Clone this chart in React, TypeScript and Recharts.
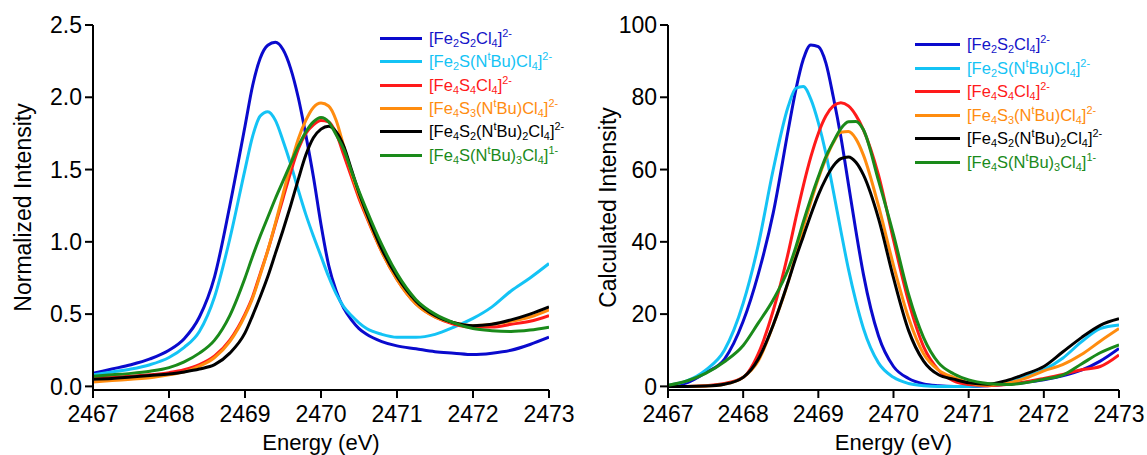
import React from "react";
import { LineChart, Line, XAxis, YAxis, Legend } from "recharts";

const FONT = "'Liberation Sans', Arial, sans-serif";

// series order matches the legend
const seriesNames = [
  "[Fe2S2Cl4]2-",
  "[Fe2S(NtBu)Cl4]2-",
  "[Fe4S4Cl4]2-",
  "[Fe4S3(NtBu)Cl4]2-",
  "[Fe4S2(NtBu)2Cl4]2-",
  "[Fe4S(NtBu)3Cl4]1-",
];
const lineColors = ["#0a0acd", "#14c3f5", "#ff1a1a", "#ff8c0f", "#000000", "#1a8a1a"];
const labelColors = ["#1414c8", "#14c3f5", "#ff1a1a", "#ff8c0f", "#000000", "#1a8a1a"];

const xTicks = [2467, 2468, 2469, 2470, 2471, 2472, 2473];
const leftYTicks = [0, 0.5, 1, 1.5, 2, 2.5];
const rightYTicks = [0, 20, 40, 60, 80, 100];

// left panel: normalized intensity
const energyLeft = [
  2467, 2467.25, 2467.5, 2467.75, 2468, 2468.2, 2468.4, 2468.6, 2468.8, 2469, 2469.1, 2469.2,
  2469.3, 2469.4, 2469.5, 2469.6, 2469.7, 2469.8, 2469.9, 2470, 2470.1, 2470.2, 2470.3, 2470.4,
  2470.5, 2470.6, 2470.8, 2471, 2471.25, 2471.5, 2471.75, 2472, 2472.25, 2472.5, 2472.75, 2473,
];
const fe2s2Left = [
  0.09, 0.12, 0.15, 0.19, 0.25, 0.33, 0.48, 0.76, 1.25, 1.8, 2.08, 2.27, 2.36, 2.38, 2.33, 2.2,
  2.0, 1.74, 1.45, 1.12, 0.84, 0.66, 0.54, 0.46, 0.4, 0.36, 0.31, 0.28, 0.26, 0.24, 0.23, 0.22,
  0.23, 0.25, 0.29, 0.34,
];
const fe2sLeft = [
  0.08, 0.1, 0.12, 0.15, 0.2, 0.27, 0.38, 0.62, 1.02, 1.5, 1.73, 1.87, 1.9, 1.84, 1.7, 1.54,
  1.36, 1.19, 1.04, 0.9, 0.76, 0.64, 0.55, 0.49, 0.44, 0.4, 0.36, 0.34, 0.34, 0.36, 0.41, 0.47,
  0.55, 0.66, 0.75, 0.85,
];
const fe4s4Left = [
  0.06, 0.065, 0.07, 0.08, 0.095, 0.115, 0.15, 0.21, 0.32, 0.5, 0.62, 0.78, 0.94, 1.12, 1.3,
  1.48, 1.64, 1.75, 1.81, 1.84, 1.83, 1.75, 1.6, 1.45, 1.3, 1.17, 0.93, 0.74, 0.57, 0.48, 0.43,
  0.41, 0.41, 0.43, 0.45, 0.49,
];
const fe4s3Left = [
  0.03, 0.04, 0.05, 0.06, 0.08, 0.1, 0.14, 0.2, 0.31, 0.49, 0.61, 0.77, 0.94, 1.13, 1.33, 1.53,
  1.71, 1.84, 1.93, 1.96, 1.94, 1.84, 1.66, 1.48, 1.32, 1.18, 0.93, 0.74, 0.57, 0.48, 0.44, 0.42,
  0.43, 0.45, 0.48, 0.53,
];
const fe4s2Left = [
  0.05, 0.055, 0.065, 0.075, 0.085, 0.1, 0.12, 0.15, 0.23, 0.37, 0.49, 0.62, 0.76, 0.92, 1.08,
  1.25, 1.43, 1.6, 1.72, 1.78, 1.8, 1.76, 1.66, 1.5, 1.34, 1.2, 0.95, 0.76, 0.59, 0.49, 0.44,
  0.42, 0.43, 0.46, 0.5, 0.55,
];
const fe4sLeft = [
  0.07, 0.08, 0.09, 0.105, 0.13, 0.17, 0.23, 0.32, 0.49, 0.75, 0.9, 1.04, 1.17, 1.3, 1.42, 1.54,
  1.66, 1.76, 1.83, 1.86, 1.83, 1.74, 1.64, 1.49, 1.35, 1.22, 0.98, 0.78, 0.6, 0.5, 0.44, 0.4,
  0.385, 0.38, 0.39, 0.41,
];

// right panel: calculated intensity
const energyRight = [
  2467, 2467.25, 2467.5, 2467.75, 2468, 2468.2, 2468.4, 2468.6, 2468.7, 2468.8, 2468.9, 2469,
  2469.1, 2469.2, 2469.3, 2469.4, 2469.5, 2469.6, 2469.8, 2470, 2470.2, 2470.4, 2470.6, 2470.8,
  2471, 2471.25, 2471.5, 2471.75, 2472, 2472.25, 2472.5, 2472.75, 2473,
];
const fe2s2Right = [
  0, 1.0, 3.8, 7.5, 18, 31, 48, 71, 82, 90.5, 94.5, 94, 89.5, 80, 69, 56, 43, 31, 14, 5.5, 2.2,
  0.7, 0.2, 0, 0, 0.2, 0.6, 1.1, 1.8, 2.9, 4.5, 7, 10.5,
];
const fe2sRight = [
  0.3, 1.5, 4.5, 10, 23, 39, 60, 77.5, 82.5, 83, 79.5, 73, 64.5, 54, 43, 32.5, 23.5, 16, 6.5, 2.5,
  0.8, 0.2, 0, 0, 0, 0.3, 1.2, 2.7, 4.6, 7.8, 12.3, 16, 17,
];
const fe4s4Right = [
  0, 0, 0.2, 0.8, 2.5, 9, 21, 37, 46.5, 55.5, 63.5, 70, 74.8, 77.6, 78.5, 77.6, 75, 71, 58.5, 40.5,
  23.5, 11, 4.5, 1.5, 0.5, 0.2, 0.5, 1.2, 2.2, 3.3, 4.6, 5.5, 8.7,
];
const fe4s3Right = [
  0, 0, 0.1, 0.6, 2.5, 7, 17, 29, 36.5, 44, 51, 57.5, 63, 67.5, 70.3, 70.5, 68.5, 64, 50, 33.5,
  19, 9, 4.5, 2.5, 1.0, 0.3, 0.8, 2.2, 4.3, 6, 8.8, 12.5, 16,
];
const fe4s2Right = [
  0, 0, 0.1, 0.6, 2.5, 7.5, 17, 29, 35.5, 41.5, 47.5, 53, 57.5, 61, 63, 63.5, 62, 58.5, 46.5, 30,
  15.5, 7, 3.2, 2.0, 1.0, 0.6, 1.6, 3.4, 5.5, 9.5, 13.5, 16.9, 18.7,
];
const fe4sRight = [
  0.3, 1.5, 3.6, 6.8, 11.3, 17.5, 24, 32.5, 38.5, 45.5, 52, 58, 63.5, 67.7, 71.3, 73.2, 73.3, 71,
  57, 42, 25.5, 13.5, 6.5, 3.5, 1.8, 0.8, 0.5, 1, 2, 3.1, 6.2, 9.3, 11.5,
];

const leftSeries = [fe2s2Left, fe2sLeft, fe4s4Left, fe4s3Left, fe4s2Left, fe4sLeft];
const rightSeries = [fe2s2Right, fe2sRight, fe4s4Right, fe4s3Right, fe4s2Right, fe4sRight];

const buildRows = (energy: number[], series: number[][]) =>
  energy.map((e, i) => {
    const row: Record<string, number> = { e };
    series.forEach((s, k) => (row[`s${k}`] = s[i]));
    return row;
  });

const leftRows = buildRows(energyLeft, leftSeries);
const rightRows = buildRows(energyRight, rightSeries);

const subStyle: React.CSSProperties = { fontSize: "0.66em", verticalAlign: "-0.32em", lineHeight: 0 };
const supStyle: React.CSSProperties = { fontSize: "0.66em", verticalAlign: "0.6em", lineHeight: 0 };

// digits -> subscript, the t of NtBu -> superscript, charge after ] -> superscript
function Formula({ text }: { text: string }) {
  const cut = text.lastIndexOf("]");
  const body = text.slice(0, cut + 1);
  const charge = text.slice(cut + 1);
  const parts: React.ReactNode[] = [];
  for (let i = 0; i < body.length; i++) {
    const c = body[i];
    if (/\d/.test(c)) parts.push(<sub key={i} style={subStyle}>{c}</sub>);
    else if (c === "t" && body[i - 1] === "N") parts.push(<sup key={i} style={supStyle}>{c}</sup>);
    else parts.push(<span key={i}>{c}</span>);
  }
  parts.push(<sup key="q" style={supStyle}>{charge}</sup>);
  return <>{parts}</>;
}

const makeLegend = (lineW: number, rowH: number) => (props: any) => {
  const payload = [...(props.payload || [])].sort(
    (a: any, b: any) => seriesNames.indexOf(a.value) - seriesNames.indexOf(b.value)
  );
  return (
    <div style={{ fontFamily: FONT }}>
      {payload.map((p: any) => {
        const k = seriesNames.indexOf(p.value);
        return (
          <div key={p.value} style={{ display: "flex", alignItems: "center", height: rowH }}>
            <div style={{ width: lineW, height: 3, background: lineColors[k], marginRight: 7 }} />
            <span style={{ color: labelColors[k], fontSize: 16.5, whiteSpace: "nowrap" }}>
              <Formula text={p.value} />
            </span>
          </div>
        );
      })}
    </div>
  );
};

const tickStyle = { fontSize: 23, fill: "#000", fontFamily: FONT };
const axisStroke = { stroke: "#000", strokeWidth: 2 };

interface PanelProps {
  rows: Record<string, number>[];
  width: number;
  rightMargin: number;
  yDomain: [number, number];
  yTicks: number[];
  yFormat: (v: number) => string;
  yLabel: string;
  yLabelOffset: number;
  legendPos: { left: number; top: number };
  legendLineW: number;
  legendRowH: number;
}

function Panel(p: PanelProps) {
  return (
    <LineChart
      width={p.width}
      height={455}
      data={p.rows}
      margin={{ top: 25, right: p.rightMargin, bottom: 0, left: 0 }}
    >
      <XAxis
        dataKey="e"
        type="number"
        domain={[2467, 2473]}
        ticks={xTicks}
        allowDataOverflow
        tick={tickStyle}
        tickLine={axisStroke}
        axisLine={axisStroke}
        tickSize={8}
        tickMargin={8}
        height={65}
        label={{ value: "Energy (eV)", position: "insideBottom", offset: 5, fontSize: 22, fill: "#000", fontFamily: FONT }}
      />
      <YAxis
        type="number"
        domain={p.yDomain}
        ticks={p.yTicks}
        allowDataOverflow
        tickFormatter={p.yFormat}
        tick={tickStyle}
        tickLine={axisStroke}
        axisLine={axisStroke}
        tickSize={8}
        tickMargin={3}
        width={93}
        label={{
          value: p.yLabel,
          angle: -90,
          position: "insideLeft",
          offset: p.yLabelOffset,
          style: { textAnchor: "middle" },
          fontSize: 23,
          fill: "#000",
          fontFamily: FONT,
        }}
      />
      <Legend
        layout="vertical"
        align="center"
        verticalAlign="middle"
        itemSorter={(item: any) => seriesNames.indexOf(item.value)}
        content={makeLegend(p.legendLineW, p.legendRowH)}
        wrapperStyle={{ left: p.legendPos.left, top: p.legendPos.top, width: 230 }}
      />
      {seriesNames.map((name, k) => (
        <Line
          key={name}
          type="monotone"
          dataKey={`s${k}`}
          name={name}
          stroke={lineColors[k]}
          strokeWidth={3}
          dot={false}
          activeDot={false}
          isAnimationActive={false}
        />
      ))}
    </LineChart>
  );
}

export default function App() {
  return (
    <div
      style={{
        position: "absolute",
        left: 0,
        top: 0,
        width: 1147,
        height: 455,
        background: "#fff",
        fontFamily: FONT,
        overflow: "hidden",
      }}
    >
      <div style={{ position: "absolute", left: 0, top: 0 }}>
        <Panel
          rows={leftRows}
          width={580}
          rightMargin={31}
          yDomain={[-0.025, 2.5]}
          yTicks={leftYTicks}
          yFormat={(v) => v.toFixed(1)}
          yLabel="Normalized Intensity"
          yLabelOffset={23}
          legendPos={{ left: 380, top: 27 }}
          legendLineW={42}
          legendRowH={23.3}
        />
      </div>
      <div style={{ position: "absolute", left: 575, top: 0 }}>
        <Panel
          rows={rightRows}
          width={572}
          rightMargin={28}
          yDomain={[-1, 100]}
          yTicks={rightYTicks}
          yFormat={(v) => String(v)}
          yLabel="Calculated Intensity"
          yLabelOffset={33}
          legendPos={{ left: 340, top: 33 }}
          legendLineW={45}
          legendRowH={23.5}
        />
      </div>
    </div>
  );
}
